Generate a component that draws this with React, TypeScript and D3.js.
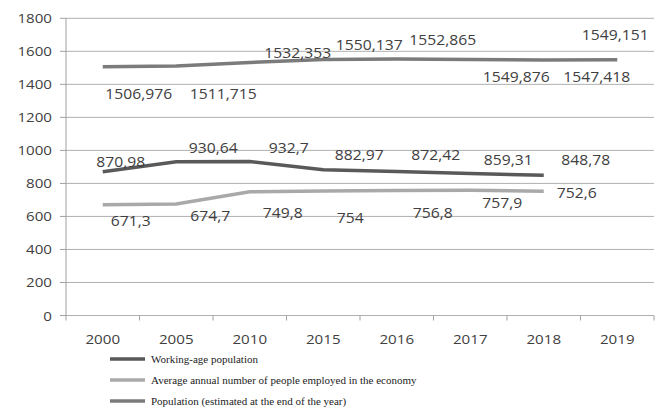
import React from "react";
import * as d3 from "d3";

// categories and values
const years = ["2000", "2005", "2010", "2015", "2016", "2017", "2018", "2019"];
const yTicks = [0, 200, 400, 600, 800, 1000, 1200, 1400, 1600, 1800];

const workingAge = [870.98, 930.64, 932.7, 882.97, 872.42, 859.31, 848.78];
const employed = [671.3, 674.7, 749.8, 754, 756.8, 757.9, 752.6];
const population = [1506.976, 1511.715, 1532.353, 1550.137, 1552.865, 1549.876, 1547.418, 1549.151];

const seriesNames = [
  "Working-age population",
  "Average annual number of people employed in the economy",
  "Population (estimated at the end of the year)",
];

// label placement relative to each point [dx, dy]
const workingAgeLabelPos = [[18, -5], [37, -9], [39, -8.5], [36, -10], [39, -11.5], [38, -8.5], [42, -10]];
const employedLabelPos = [[28, 21.5], [34, 17], [33, 26.5], [27, 32], [36, 27.5], [32, 17.5], [33, 7]];
const populationLabelPos = [[36, 32], [47, 33], [48, -4.5], [46, -10], [46, -14], [46, 22], [53, 22], [-2, -20]];

const colors = ["#595959", "#a9a9a9", "#7b7b7b"];

const width = 656;
const height = 410;
const margin = { top: 18.3, left: 66, bottom: 94.5, right: 2 };

const fmt = (v: number) => String(v).replace(".", ",");

function Label({ x, y, text, size = 14 }: { x: number; y: number; text: string; size?: number }) {
  return (
    <text
      transform={`translate(${x},${y}) scale(1.12,1)`}
      textAnchor="middle"
      fontFamily="'Open Sans', sans-serif"
      fontSize={size}
      fill="#404040"
    >
      {text}
    </text>
  );
}

export default function App() {
  const x = d3
    .scalePoint<string>()
    .domain(years)
    .range([margin.left, width - margin.right])
    .padding(0.5);
  const step = x.step();

  const y = d3
    .scaleLinear()
    .domain([0, 1800])
    .range([height - margin.bottom, margin.top]);

  const line = d3
    .line<number>()
    .x((_, i) => x(years[i]) as number)
    .y(d => y(d));

  const series = [
    { values: workingAge, pos: workingAgeLabelPos, color: colors[0] },
    { values: employed, pos: employedLabelPos, color: colors[1] },
    { values: population, pos: populationLabelPos, color: colors[2] },
  ];

  const x0 = margin.left;
  const x1 = width - margin.right;
  const yBase = y(0);

  return (
    <svg
      width={width}
      height={height}
      style={{ position: "absolute", left: 0, top: 0, background: "#fff" }}
    >
      {/* gridlines */}
      {yTicks.map(t => (
        <line key={t} x1={x0} x2={x1} y1={y(t)} y2={y(t)} stroke="#b0b0b0" strokeWidth={1} />
      ))}
      {/* y axis */}
      <line x1={x0} x2={x0} y1={y(1800)} y2={yBase} stroke="#a0a0a0" />
      {yTicks.map(t => (
        <line key={"yt" + t} x1={x0 - 6} x2={x0} y1={y(t)} y2={y(t)} stroke="#a0a0a0" />
      ))}
      {yTicks.map(t => (
        <text
          key={"yl" + t}
          transform={`translate(${x0 - 14},${y(t) + 5}) scale(1.12,1)`}
          textAnchor="end"
          fontFamily="'Open Sans', sans-serif"
          fontSize={13.5}
          fill="#404040"
        >
          {t}
        </text>
      ))}
      {/* x axis ticks */}
      {d3.range(years.length + 1).map(i => (
        <line
          key={"xt" + i}
          x1={x0 + i * step}
          x2={x0 + i * step}
          y1={yBase}
          y2={yBase + 5}
          stroke="#a0a0a0"
        />
      ))}
      {years.map(yr => (
        <Label key={"xl" + yr} x={x(yr) as number} y={yBase + 28} text={yr} size={13.5} />
      ))}

      {/* lines */}
      {series.map((s, i) => (
        <path
          key={"s" + i}
          d={line(s.values) || ""}
          fill="none"
          stroke={s.color}
          strokeWidth={3.5}
        />
      ))}

      {/* data labels */}
      {series.map((s, i) =>
        s.values.map((v, j) => (
          <Label
            key={`dl${i}-${j}`}
            x={(x(years[j]) as number) + s.pos[j][0]}
            y={y(v) + s.pos[j][1]}
            text={fmt(v)}
          />
        ))
      )}

      {/* legend */}
      {seriesNames.map((name, i) => {
        const ly = 359 + i * 21;
        return (
          <g key={"lg" + i}>
            <line x1={110} x2={145} y1={ly} y2={ly} stroke={colors[i]} strokeWidth={3.5} />
            <text
              x={151}
              y={ly + 3.5}
              fontFamily="'Liberation Serif', serif"
              fontSize={11}
              fill="#222"
            >
              {name}
            </text>
          </g>
        );
      })}
    </svg>
  );
}
